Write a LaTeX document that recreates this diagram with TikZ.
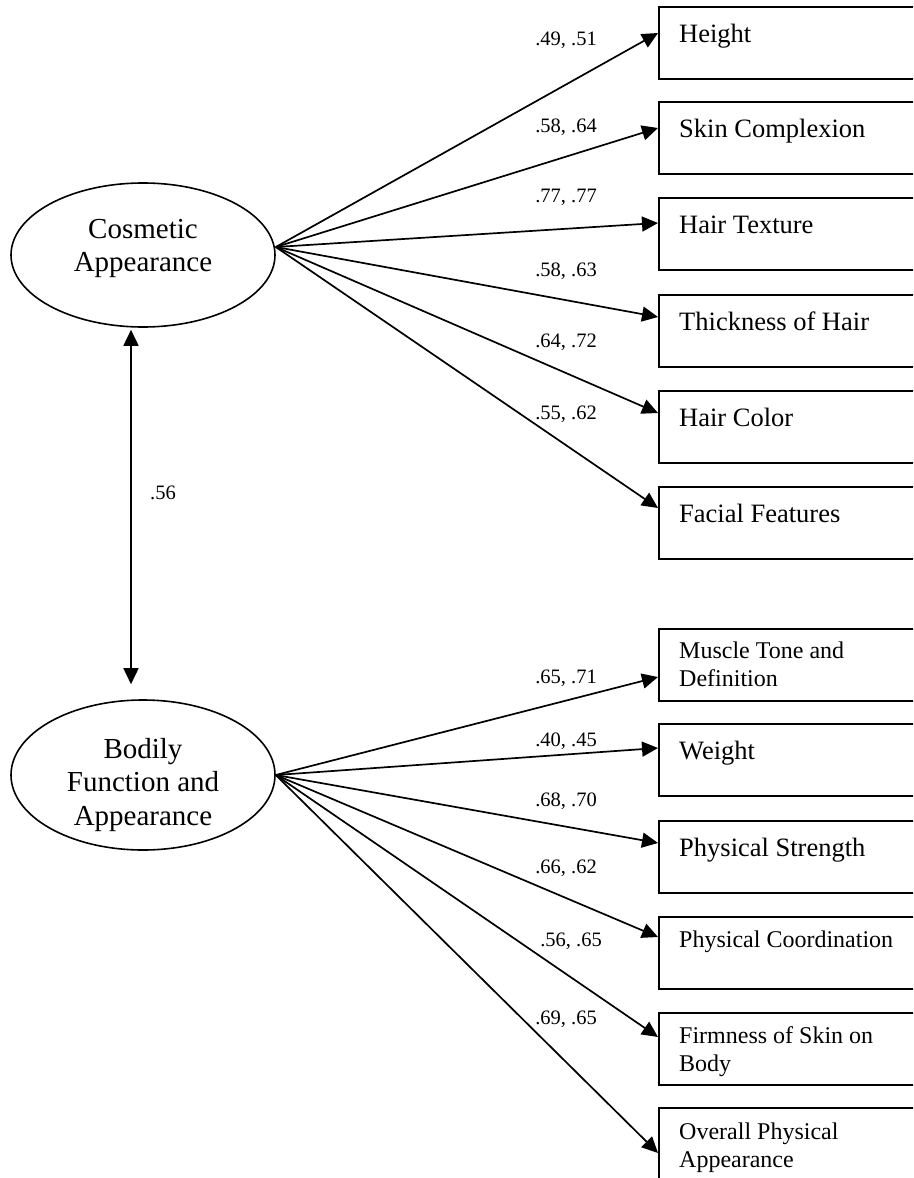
\documentclass[tikz,border=0pt]{standalone}
\usepackage{fontspec}
\setmainfont{Liberation Serif}
\usetikzlibrary{arrows.meta,shapes.geometric}
\newcommand\fsz[2]{\fontsize{#1}{#2}\selectfont}
\begin{document}
\begin{tikzpicture}[x=1pt,y=-1pt,
  box/.style={draw, line width=2pt, minimum width=320pt, minimum height=72pt, anchor=north west, inner sep=0pt},
  lat/.style={draw, ellipse, line width=1.6pt, minimum width=264pt, inner sep=0pt},
  arr/.style={line width=1.7pt, -{Triangle[length=16pt,width=15pt]}},
  big/.style={anchor=base west, inner sep=0pt, font=\fsz{26.5}{30}},
  small/.style={anchor=base west, inner sep=0pt, font=\fsz{24}{28}},
  coef/.style={anchor=base, inner sep=0pt, font=\fsz{20.5}{24}},
  lattext/.style={anchor=base, inner sep=0pt, font=\fsz{29}{33.5}},
]
\useasboundingbox (0,0) rectangle (913,1178);
\clip (0,0) rectangle (913,1178);

% latent variables
\node[lat, minimum height=144pt] (cos) at (143,255) {};
\node[lat, minimum height=150pt] (bod) at (143,775) {};
\node[lattext] (cost) at (143,238) {\begin{tabular}[t]{@{}c@{}}Cosmetic\\Appearance\end{tabular}};
\node[lattext] (bodt) at (143,758) {\begin{tabular}[t]{@{}c@{}}Bodily\\Function and\\Appearance\end{tabular}};

\coordinate (c1) at ([yshift=8pt]cos.east);
\coordinate (c2) at (bod.east);

% indicator boxes (cosmetic)
\node[box] (h1) at (658,6) {};
\node[box] (h2) at (658,101) {};
\node[box] (h3) at (658,197) {};
\node[box] (h4) at (658,294) {};
\node[box] (h5) at (658,390) {};
\node[box] (h6) at (658,486) {};
\node[big] (h1t) at (679,42) {Height};
\node[big] (h2t) at (679,137) {Skin Complexion};
\node[big] (h3t) at (679,233) {Hair Texture};
\node[big] (h4t) at (679,330) {Thickness of Hair};
\node[big] (h5t) at (679,426) {Hair Color};
\node[big] (h6t) at (679,522) {Facial Features};

% indicator boxes (bodily)
\node[box] (b1) at (658,628) {};
\node[box] (b2) at (658,723) {};
\node[box] (b3) at (658,820) {};
\node[box] (b4) at (658,916) {};
\node[box] (b5) at (658,1012) {};
\node[box] (b6) at (658,1107) {};
\node[small] (b1t) at (679,658) {\begin{tabular}[t]{@{}l@{}}Muscle Tone and\\Definition\end{tabular}};
\node[big] (b2t) at (679,759) {Weight};
\node[big] (b3t) at (679,856) {Physical Strength};
\node[small] (b4t) at (679,947) {Physical Coordination};
\node[small] (b5t) at (679,1043) {\begin{tabular}[t]{@{}l@{}}Firmness of Skin on\\Body\end{tabular}};
\node[small] (b6t) at (679,1139) {\begin{tabular}[t]{@{}l@{}}Overall Physical\\Appearance\end{tabular}};

% paths
\draw[arr] (c1) -- ([yshift=-27pt]h1.north west);
\draw[arr] (c1) -- ([yshift=-27pt]h2.north west);
\draw[arr] (c1) -- ([yshift=-26pt]h3.north west);
\draw[arr] (c1) -- ([yshift=-23pt]h4.north west);
\draw[arr] (c1) -- ([yshift=-23pt]h5.north west);
\draw[arr] (c1) -- ([yshift=-22pt]h6.north west);

\draw[arr] (c2) -- ([yshift=-49pt]b1.north west);
\draw[arr] (c2) -- ([yshift=-25pt]b2.north west);
\draw[arr] (c2) -- ([yshift=-23pt]b3.north west);
\draw[arr] (c2) -- ([yshift=-21pt]b4.north west);
\draw[arr] (c2) -- ([yshift=-25pt]b5.north west);
\draw[arr] (c2) -- ([yshift=-46pt]b6.north west);

% correlation
\draw[line width=1.7pt, {Triangle[length=16pt,width=15pt]}-{Triangle[length=16pt,width=15pt]}]
  ([xshift=-12pt,yshift=-2pt]cos.south) -- ([xshift=-12pt,yshift=15pt]bod.north);

% coefficients
\node[coef] (l1) at (566,45) {.49, .51};
\node[coef] (l2) at (566,132) {.58, .64};
\node[coef] (l3) at (566,202) {.77, .77};
\node[coef] (l4) at (566,276) {.58, .63};
\node[coef] (l5) at (566,347) {.64, .72};
\node[coef] (l6) at (566,419) {.55, .62};
\node[coef] (r) at (163,499) {.56};
\node[coef] (m1) at (566,683) {.65, .71};
\node[coef] (m2) at (566,746) {.40, .45};
\node[coef] (m3) at (566,806) {.68, .70};
\node[coef] (m4) at (566,873) {.66, .62};
\node[coef] (m5) at (571,946) {.56, .65};
\node[coef] (m6) at (566,1024) {.69, .65};
\end{tikzpicture}
\end{document}
